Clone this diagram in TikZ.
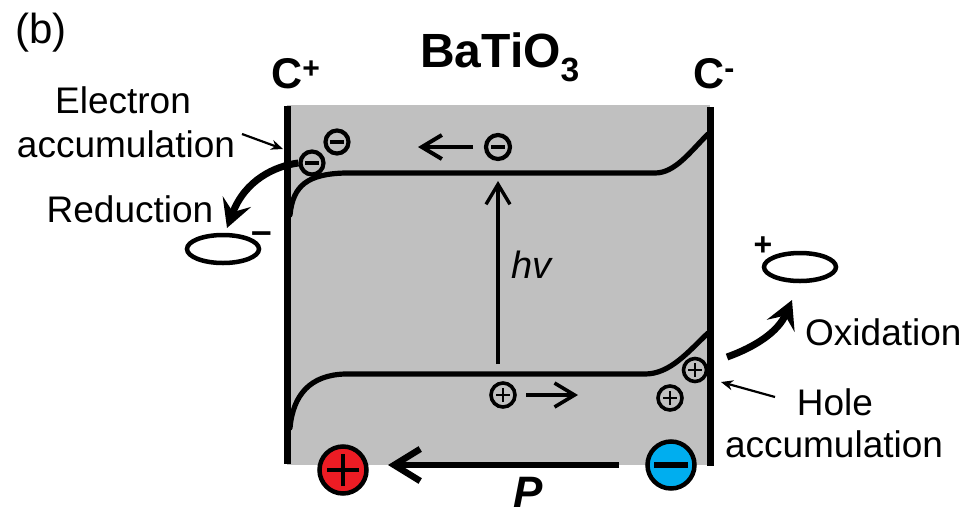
\documentclass[tikz,border=0pt]{standalone}
\usepackage{fontspec}
\setmainfont{Liberation Sans}
\usetikzlibrary{arrows.meta,shapes.geometric}
\definecolor{bg}{RGB}{192,192,192}
\definecolor{pred}{RGB}{237,28,36}
\definecolor{pblue}{RGB}{0,174,239}
\begin{document}
\begin{tikzpicture}[x=1pt,y=-1pt,
  lab/.style={font=\fontsize{37}{44}\selectfont, inner sep=0pt, anchor=base},
  band/.style={line width=5.2pt, line cap=round},
  wall/.style={line width=7pt},
  elec/.style={circle, draw, line width=4.2pt, fill=bg, minimum size=23pt, inner sep=0pt,
    path picture={\draw[line width=4pt] ([xshift=-7pt]path picture bounding box.center) -- ([xshift=7pt]path picture bounding box.center);}},
  hole/.style={circle, draw, line width=3.6pt, fill=bg, minimum size=23pt, inner sep=0pt,
    path picture={\draw[line width=2pt] ([xshift=-7pt]path picture bounding box.center) -- ([xshift=7pt]path picture bounding box.center) ([yshift=-7pt]path picture bounding box.center) -- ([yshift=7pt]path picture bounding box.center);}},
  bigc/.style={circle, draw, line width=4.5pt, minimum size=47pt, inner sep=0pt},
  barb/.style={line width=3.6pt, -{Straight Barb[length=20pt,width=24pt]}},
  thick arrow/.style={line width=7pt, -{Stealth[length=28pt,width=30pt,inset=11pt]}},
  thin arrow/.style={line width=2.2pt, -{Stealth[length=12pt,width=10pt]}},
  molecule/.style={ellipse, draw, line width=4.5pt, minimum width=72pt, minimum height=28pt, inner sep=0pt}
]
\useasboundingbox (0,0) rectangle (980,528);
\path[fill=white] (0,0) rectangle (980,528);

% crystal
\fill[bg] (287,105) rectangle (710,465);
\draw[band] (290,215) .. controls (293,185) and (308,174) .. (345,173) -- (655,173) .. controls (675,173) and (690,152) .. (708,134);
\draw[band] (290,428) .. controls (293,395) and (310,375) .. (345,374) -- (645,374) .. controls (670,374) and (688,352) .. (708,333);
\coordinate (wlt) at (287,106); \coordinate (wlb) at (287,464);
\coordinate (wrt) at (710,107); \coordinate (wrb) at (710,466);
\draw[wall] (wlt) -- (wlb);
\draw[wall] (wrt) -- (wrb);

% titles
\node[font=\fontsize{42}{48}\selectfont, inner sep=0pt, anchor=base west] (lb) at (15,43) {(b)};
\node[font=\bfseries\fontsize{43}{48}\selectfont, inner sep=0pt, anchor=base west] (cp) at (271,88) {C\textsuperscript{+}};
\node[font=\bfseries\fontsize{43}{48}\selectfont, inner sep=0pt, anchor=base west] (cm) at (693,88) {C\textsuperscript{-}};
\node[font=\bfseries\fontsize{48}{56}\selectfont, inner sep=0pt, anchor=base west] (bto) at (420,67) {BaTiO\textsubscript{3}};

% photoexcitation
\coordinate (vbtop) at (498,364);
\coordinate (cbbot) at (498,181);
\draw[barb, line width=3.4pt] (vbtop) -- (cbbot);
\node[font=\itshape\fontsize{38}{44}\selectfont, inner sep=0pt, anchor=base west] (hv) at (511,278) {hv};

% electrons
\node[elec, minimum size=24pt] (e0) at (498,147) {};
\node[elec] (e1) at (337,142) {};
\node[elec] (e2) at (312,163) {};
\coordinate (eS) at (473,147);
\coordinate (eT) at (418,147);
\draw[barb, line width=4pt] (eS) -- (eT);

% holes
\node[hole, minimum size=24pt] (h0) at (503,395) {};
\node[hole, minimum size=24pt] (h1) at (670,398) {};
\node[hole] (h2) at (695,370) {};
\coordinate (hS) at (526,395);
\coordinate (hT) at (578,395);
\draw[barb] (hS) -- (hT);

% polarization
\node[bigc, fill=pred, path picture={\draw[line width=4.8pt] ([xshift=-16pt]path picture bounding box.center) -- ([xshift=16pt]path picture bounding box.center) ([yshift=-16pt]path picture bounding box.center) -- ([yshift=16pt]path picture bounding box.center);}] (pplus) at (343,470) {};
\node[bigc, fill=pblue, path picture={\draw[line width=6pt] ([xshift=-17pt]path picture bounding box.center) -- ([xshift=17pt]path picture bounding box.center);}] (pminus) at (671,465) {};
\coordinate (PS) at (619,465);
\coordinate (PT) at (388,465);
\draw[line width=6.5pt, -{Straight Barb[length=26pt,width=32pt]}] (PS) -- (PT);
\node[font=\bfseries\itshape\fontsize{44}{50}\selectfont, inner sep=0pt, anchor=base] (P) at (528,507) {P};

% reduction side
\node[molecule] (mL) at (223,249) {};
\node[font=\bfseries\fontsize{37}{44}\selectfont, inner sep=0pt, anchor=base] (mLq) at (262,243) {–};
\coordinate (redT) at (227,228);
\draw[thick arrow] (e2.west) .. controls (275,166) and (245,180) .. (redT);
\node[lab] (red) at (130,222) {Reduction};
\node[lab] (el1) at (123,113) {Electron};
\node[lab] (el2) at (126,157) {accumulation};
\coordinate (eaS) at (242,134);
\coordinate (eaT) at (283,149);
\draw[thin arrow] (eaS) -- (eaT);

% oxidation side
\node[molecule] (mR) at (800,267) {};
\node[font=\bfseries\fontsize{32}{40}\selectfont, inner sep=0pt] (mRq) at (763,246) {+};
\coordinate (oxS) at (727,357);
\coordinate (oxT) at (792,300);
\draw[thick arrow] (oxS) .. controls (755,347) and (778,332) .. (oxT);
\node[lab, anchor=base west] (ox) at (805,345) {Oxidation};
\node[lab] (ho1) at (835,415) {Hole};
\node[lab] (ho2) at (834,457) {accumulation};
\coordinate (haS) at (775,397);
\coordinate (haT) at (721,382);
\draw[thin arrow] (haS) -- (haT);
\end{tikzpicture}
\end{document}
